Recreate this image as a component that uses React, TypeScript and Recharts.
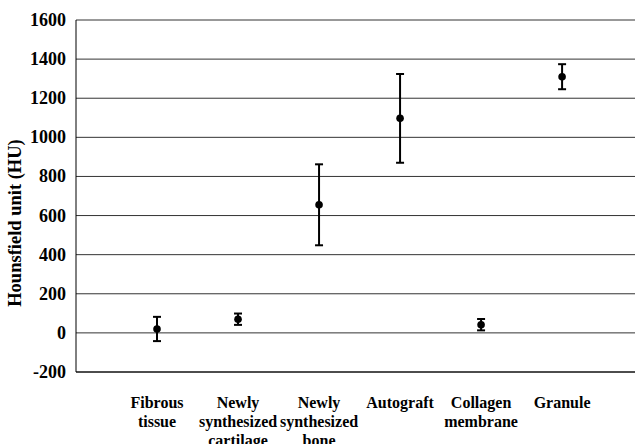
import { ComposedChart, Scatter, ErrorBar, XAxis, YAxis, CartesianGrid } from 'recharts'

const categories = [
  ['Fibrous', 'tissue'],
  ['Newly', 'synthesized', 'cartilage'],
  ['Newly', 'synthesized', 'bone'],
  ['Autograft'],
  ['Collagen', 'membrane'],
  ['Granule'],
]
const means = [20, 70, 655, 1097, 42, 1310]
const errors = [62, 29, 207, 227, 29, 64]
const yTicks = [-200, 0, 200, 400, 600, 800, 1000, 1200, 1400, 1600]

const data = means.map((m, i) => ({ pos: i + 1, hu: m, err: errors[i] }))

const FONT = 'Liberation Serif'

function CategoryTick(props: any) {
  const { x, y, payload } = props
  const lines = categories[payload.value - 1] || []
  return (
    <text x={x} y={y} textAnchor="middle" fontFamily={FONT} fontWeight={700} fontSize={16} fill="#000">
      {lines.map((l, i) => (
        <tspan key={i} x={x} dy={i === 0 ? 28 : 19}>{l}</tspan>
      ))}
    </text>
  )
}

function ValueTick(props: any) {
  const { x, y, payload } = props
  return (
    <text x={x - 8} y={y} dy={6} textAnchor="end" fontFamily={FONT} fontWeight={700} fontSize={18} fill="#000">
      {payload.value}
    </text>
  )
}

function AxisTitle(props: any) {
  const { viewBox } = props
  const cx = viewBox.x + 15
  const cy = viewBox.y + viewBox.height / 2 + 27
  return (
    <text x={cx} y={cy} transform={`rotate(-90, ${cx}, ${cy})`} textAnchor="middle" dominantBaseline="central"
      fontFamily={FONT} fontWeight={700} fontSize={18.5} fill="#000">
      Hounsfield unit (HU)
    </text>
  )
}

function Dot(props: any) {
  return <circle cx={props.cx} cy={props.cy} r={3.8} fill="#000" />
}

export default function App() {
  return (
    <div style={{ position: 'absolute', left: 0, top: 0, background: '#fff' }}>
      <ComposedChart width={635} height={444} data={data} margin={{ top: 20, right: 0, left: 0, bottom: 0 }}>
        <CartesianGrid vertical={false} stroke="#333" strokeWidth={1} />
        <XAxis
          type="number"
          dataKey="pos"
          domain={[0, 6.9]}
          ticks={[1, 2, 3, 4, 5, 6]}
          tick={<CategoryTick />}
          tickLine={false}
          axisLine={{ stroke: '#000' }}
          height={72}
          interval={0}
        />
        <YAxis
          type="number"
          dataKey="hu"
          domain={[-200, 1600]}
          ticks={yTicks}
          width={76}
          tickLine={false}
          tickSize={0}
          axisLine={{ stroke: '#000' }}
          tick={<ValueTick />}
          interval={0}
          label={<AxisTitle />}
        />
        <Scatter dataKey="hu" fill="#000" shape={<Dot />} isAnimationActive={false}>
          <ErrorBar dataKey="err" direction="y" width={4} stroke="#000" strokeWidth={2} isAnimationActive={false} />
        </Scatter>
      </ComposedChart>
    </div>
  )
}
